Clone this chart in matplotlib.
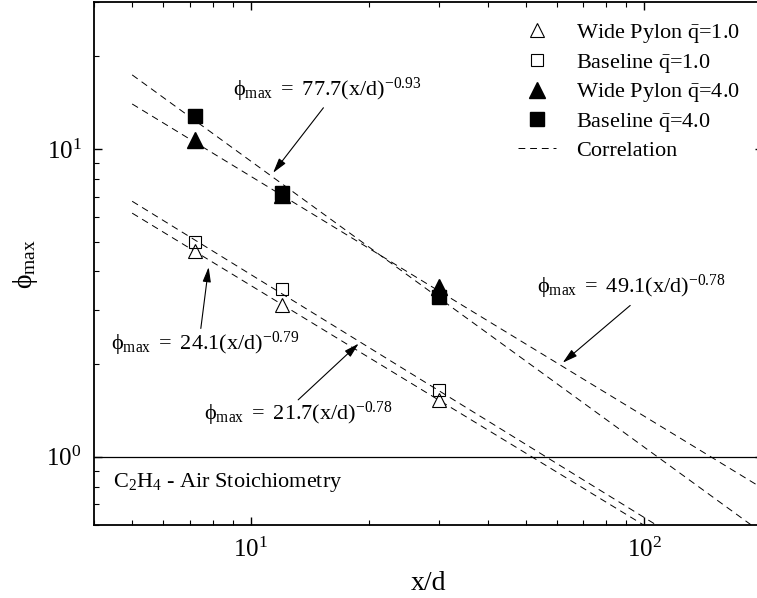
import numpy as np
import matplotlib
matplotlib.use("Agg")
import matplotlib.pyplot as plt

plt.rcParams["font.family"] = ["Liberation Serif", "DejaVu Serif"]
plt.rcParams["mathtext.fontset"] = "custom"
plt.rcParams["mathtext.rm"] = "Liberation Serif"
plt.rcParams["mathtext.it"] = "Liberation Serif:italic"
plt.rcParams["mathtext.bf"] = "Liberation Serif:bold"

# measured points (x/d, phi_max)
x_pts = [7.2, 12.0, 30.0]
wide_q1 = [4.65, 3.1, 1.53]
base_q1 = [5.0, 3.5, 1.65]
wide_q4 = [10.7, 7.1, 3.55]
base_q4 = [12.8, 7.2, 3.3]

# correlations phi_max = a * (x/d)^b
corr_a = [77.7, 49.1, 24.1, 21.7]
corr_b = [-0.93, -0.78, -0.79, -0.78]
corr_x = [5.0, 200.0]

PHI = "\u03d5"


def main():
    fig = plt.figure(figsize=(7.57, 5.98), dpi=100)
    ax = fig.add_axes([94 / 757, 1 - 525 / 598, (763 - 94) / 757, (525 - 2) / 598])

    xc = np.array(corr_x)
    for i, (a, b) in enumerate(zip(corr_a, corr_b)):
        ax.plot(xc, a * xc ** b, color="k", lw=0.7, ls=(0, (7, 5)),
                label="Correlation" if i == 0 else None, zorder=2)

    ax.plot(x_pts, wide_q1, ls="none", marker="^", ms=10, mfc="white", mec="k", mew=0.8,
            label=r"Wide Pylon $\bar{\mathrm{q}}$=1.0", zorder=3)
    ax.plot(x_pts, base_q1, ls="none", marker="s", ms=9, mfc="none", mec="k", mew=0.8,
            label=r"Baseline $\bar{\mathrm{q}}$=1.0", zorder=3)
    ax.plot(x_pts, wide_q4, ls="none", marker="^", ms=11, mfc="k", mec="k",
            label=r"Wide Pylon $\bar{\mathrm{q}}$=4.0", zorder=3)
    ax.plot(x_pts, base_q4, ls="none", marker="s", ms=10, mfc="k", mec="k",
            label=r"Baseline $\bar{\mathrm{q}}$=4.0", zorder=3)

    # stoichiometric line
    ax.axhline(1.0, color="k", lw=0.9, zorder=1)

    ax.set_xscale("log")
    ax.set_yscale("log")
    ax.set_xlim(4, 200)
    ax.set_ylim(0.6, 30)

    for s in ax.spines.values():
        s.set_linewidth(1.3)
    ax.tick_params(which="both", direction="in", top=True, right=True, labelsize=18)
    ax.tick_params(which="major", length=6, width=1.0, pad=9)
    ax.tick_params(which="minor", length=3.6, width=0.8)
    ax.yaxis.set_minor_formatter(plt.NullFormatter())
    ax.xaxis.set_minor_formatter(plt.NullFormatter())

    ax.set_xlabel("x/d", fontsize=20)
    ax.set_ylabel(r"$\mathrm{" + PHI + r"_{max}}$", fontsize=20)
    ax.xaxis.set_label_coords(0.5, -0.088)
    ax.yaxis.set_label_coords(-0.08, 0.5)

    fs = 16
    arrow = dict(arrowstyle="-|>,head_length=0.9,head_width=0.25", color="k", lw=0.8,
                 shrinkA=0, shrinkB=0)

    ax.text(9.0, 15.6, r"$\mathrm{" + PHI + r"_{max}\ =\ 77.7(x/d)^{-0.93}}$",
            fontsize=fs, ha="left", va="center")
    ax.annotate("", xy=(11.4, 8.36), xytext=(15.3, 13.6), arrowprops=arrow)

    ax.text(53.5, 3.55, r"$\mathrm{" + PHI + r"_{max}\ =\ 49.1(x/d)^{-0.78}}$",
            fontsize=fs, ha="left", va="center")
    ax.annotate("", xy=(62, 2.02), xytext=(92, 3.1), arrowprops=arrow)

    ax.text(4.42, 2.33, r"$\mathrm{" + PHI + r"_{max}\ =\ 24.1(x/d)^{-0.79}}$",
            fontsize=fs, ha="left", va="center")
    ax.annotate("", xy=(7.82, 4.13), xytext=(7.47, 2.61), arrowprops=arrow)

    ax.text(7.6, 1.38, r"$\mathrm{" + PHI + r"_{max}\ =\ 21.7(x/d)^{-0.78}}$",
            fontsize=fs, ha="left", va="center")
    ax.annotate("", xy=(18.8, 2.33), xytext=(13.2, 1.53), arrowprops=arrow)

    ax.text(4.47, 0.823, r"C$_2$H$_4$ - Air Stoichiometry", fontsize=fs,
            ha="left", va="center")

    handles, labels = ax.get_legend_handles_labels()
    order = [1, 2, 3, 4, 0]
    ax.legend([handles[i] for i in order], [labels[i] for i in order],
              loc="upper left", bbox_to_anchor=(518 / 757, 1 - 22 / 598),
              bbox_transform=fig.transFigure, frameon=False, fontsize=fs,
              handlelength=1.7, handletextpad=0.9, labelspacing=0.3,
              borderaxespad=0, borderpad=0)

    fig.savefig("out.png", dpi=100)


if __name__ == "__main__":
    main()
